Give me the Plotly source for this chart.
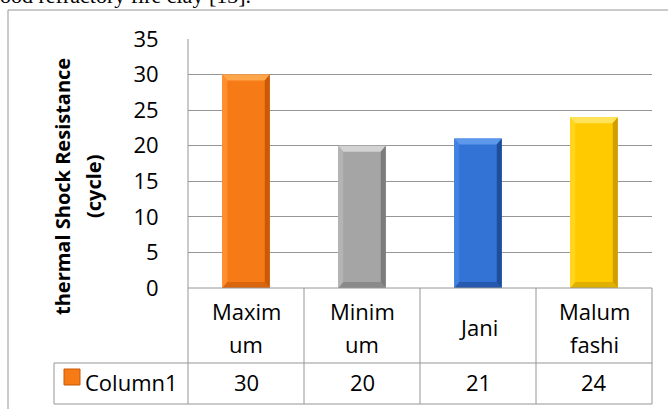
import plotly.graph_objects as go

# ---- data ----
categories = ["Maximum", "Minimum", "Jani", "Malumfashi"]
values = [30, 20, 21, 24]
series_name = "Column1"
y_ticks = [0, 5, 10, 15, 20, 25, 30, 35]
y_title = "thermal Shock Resistance<br>(cycle)"
caption_above = "ood refractory fire clay [13]."

# bar styles: (body, top bevel, left bevel, right bevel, bottom bevel)
bar_styles = [
    ("#F67B16", "#FFA54A", "#FF8E2C", "#C95A07", "#D9660D"),
    ("#A5A5A5", "#D2D2D2", "#B4B4B4", "#7C7C7C", "#8A8A8A"),
    ("#3273D5", "#5E98EC", "#3F82E2", "#1E4D9C", "#2759AE"),
    ("#FFCB00", "#FFE35A", "#FFD51E", "#D09E00", "#E0B000"),
]

W, H = 668, 409
L, R, T, B = 188, 652, 39, 288     # plot area in pixels
FONT = "Open Sans"
FS = 22
LINE = "#969696"

def px(x):
    return (x - L) / (R - L)

def py(y):
    return (B - y) / (B - T)

def wrap(name, n=5):
    return [name[i:i + n] for i in range(0, len(name), n)]

xs = list(range(len(categories)))
bar_w = 0.41
y_max = 35

fig = go.Figure()
fig.add_trace(go.Bar(
    x=xs, y=values, width=bar_w, name=series_name,
    marker=dict(color=[s[0] for s in bar_styles], line=dict(width=0)),
    showlegend=False, hoverinfo="skip",
))

# bevelled faces on every bar, built from the bar values in axis units
dx = 5 / ((R - L) / len(categories))
dy = 6 * y_max / (B - T)
shapes = []
for i, v in enumerate(values):
    x0, x1 = i - bar_w / 2, i + bar_w / 2
    body, top, left, right, bottom = bar_styles[i]
    faces = [
        (top, [(x0, v), (x1, v), (x1 - dx, v - dy), (x0 + dx, v - dy)]),
        (bottom, [(x0, 0), (x1, 0), (x1 - dx, dy), (x0 + dx, dy)]),
        (left, [(x0, 0), (x0, v), (x0 + dx, v - dy), (x0 + dx, dy)]),
        (right, [(x1, 0), (x1, v), (x1 - dx, v - dy), (x1 - dx, dy)]),
    ]
    for col, pts in faces:
        path = "M " + " L ".join(f"{a},{b}" for a, b in pts) + " Z"
        shapes.append(dict(type="path", xref="x", yref="y", path=path,
                           fillcolor=col, line=dict(width=0), layer="above"))

def hline(y, xa, xb):
    shapes.append(dict(type="line", xref="paper", yref="paper",
                       x0=px(xa), x1=px(xb), y0=py(y), y1=py(y),
                       line=dict(color=LINE, width=1)))

def vline(x, ya, yb):
    shapes.append(dict(type="line", xref="paper", yref="paper",
                       x0=px(x), x1=px(x), y0=py(ya), y1=py(yb),
                       line=dict(color=LINE, width=1)))

# outer chart frame (runs past the right and bottom edges)
shapes.append(dict(type="rect", xref="paper", yref="paper",
                   x0=px(8), x1=px(720), y0=py(10), y1=py(460),
                   line=dict(color=LINE, width=1), fillcolor="rgba(0,0,0,0)"))

# data table grid
hline(B, L, R)
hline(363, 54, R)
hline(404, 54, R)
vline(L, T, 404)
vline(R, B, 404)
vline(54, 363, 404)
for i in xs[:-1]:
    shapes.append(dict(type="line", xref="x", yref="paper",
                       x0=i + 0.5, x1=i + 0.5, y0=py(B), y1=py(404),
                       line=dict(color=LINE, width=1)))

# legend key
shapes.append(dict(type="rect", xref="paper", yref="paper",
                   x0=px(64), x1=px(80), y0=py(369), y1=py(385),
                   fillcolor=bar_styles[0][0], line=dict(color="#C95A07", width=1)))

annotations = []
# category labels, wrapped into the table header cells
for i, name in enumerate(categories):
    lines = wrap(name)
    n = len(lines)
    for k, ln in enumerate(lines):
        base = 334 + (k - (n - 1) / 2) * 33
        annotations.append(dict(x=i, xref="x", y=py(base - 7), yref="paper",
                                text=ln, showarrow=False, yanchor="middle",
                                font=dict(family=FONT, size=FS, color="black")))
# value row
for i, v in enumerate(values):
    annotations.append(dict(x=i, xref="x", y=py(389 - 7), yref="paper",
                            text=str(v), showarrow=False, yanchor="middle",
                            font=dict(family=FONT, size=FS, color="black")))
annotations.append(dict(x=px(83), xref="paper", y=py(389 - 7), yref="paper",
                        text=series_name, showarrow=False, xanchor="left",
                        yanchor="middle",
                        font=dict(family=FONT, size=FS, color="black")))
# axis title, one rotated annotation per line
for k, ln in enumerate(y_title.split("<br>")):
    annotations.append(dict(x=px(62 + 31 * k), xref="paper", y=py(187), yref="paper",
                            text=f"<b>{ln}</b>", showarrow=False, textangle=-90,
                            xanchor="center", yanchor="middle",
                            font=dict(family=FONT, size=20, color="black")))
# running text above the chart
annotations.append(dict(x=px(-2), xref="paper", y=py(-5), yref="paper",
                        text=caption_above, showarrow=False, xanchor="left",
                        yanchor="middle",
                        font=dict(family="Liberation Serif", size=22, color="black")))

fig.update_layout(
    width=W, height=H,
    margin=dict(l=L, r=W - R, t=T, b=H - B, pad=0),
    paper_bgcolor="white", plot_bgcolor="white",
    bargap=0.59,
    xaxis=dict(range=[-0.5, len(categories) - 0.5], showticklabels=False,
               showgrid=False, zeroline=False, showline=False, fixedrange=True),
    yaxis=dict(range=[0, y_max], tickvals=y_ticks, showgrid=True,
               gridcolor=LINE, gridwidth=1, zeroline=False, showline=False,
               ticks="outside", ticklen=24, tickcolor="rgba(0,0,0,0)",
               tickfont=dict(family=FONT, size=FS, color="black"),
               fixedrange=True),
    shapes=shapes,
    annotations=annotations,
    showlegend=False,
)

fig.write_html("out.html")
